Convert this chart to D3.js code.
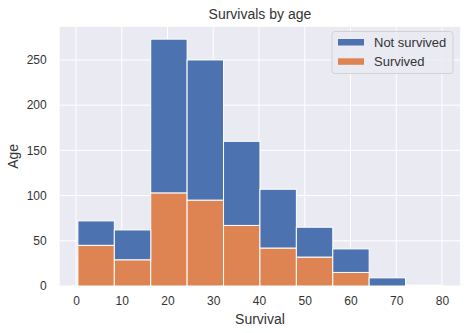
<!DOCTYPE html>
<html>
<head>
<meta charset="utf-8">
<script src="https://cdn.jsdelivr.net/npm/d3@7"></script>
<style>
  body { margin: 0; background: #fff; }
  text { font-family: "Liberation Sans", Arial, sans-serif; fill: #333; }
</style>
</head>
<body>
<div id="area1"></div>
<script>
const w1 = 467;
const h1 = 333;

// histogram bins (10 bins between min and max age)
const binEdges = [0.42, 8.38, 16.34, 24.29, 32.25, 40.21, 48.17, 56.13, 64.08, 72.04, 80];
// counts per bin
const survived    = [45, 29, 103, 95, 67, 42, 32, 15, 0, 0];
const notSurvived = [27, 33, 170, 155, 93, 65, 33, 26, 9, 1];
const seriesNames = ["Not survived", "Survived"];
const xTicks = [0, 10, 20, 30, 40, 50, 60, 70, 80];
const yTicks = [0, 50, 100, 150, 200, 250];

const colors = { "Not survived": "#4C72B0", "Survived": "#DD8452" };

let rows = binEdges.slice(0, -1).map((x0, i) => ({
    x0: x0,
    x1: binEdges[i + 1],
    "Survived": survived[i],
    "Not survived": notSurvived[i]
}));

// survived at the bottom, not survived stacked above
let stacked = d3.stack().keys(["Survived", "Not survived"])(rows);

// plot area edges
const pLeft = 59.7, pRight = 460.2, pTop = 26.8, pBottom = 286;

// 5% padding on both axes like matplotlib
let xMin = binEdges[0], xMax = binEdges[binEdges.length - 1];
let pad = (xMax - xMin) * 0.05;
let x = d3.scaleLinear()
    .domain([xMin - pad, xMax + pad])
    .range([pLeft, pRight]);

let yMax = d3.max(rows, (d) => d["Survived"] + d["Not survived"]);
let y = d3.scaleLinear()
    .domain([0, yMax * 1.05])
    .range([pBottom, pTop]);

let svg1 = d3.select("#area1")
    .append("svg")
    .attr("width", w1)
    .attr("height", h1);

// plot background
svg1.append("rect")
    .attr("x", pLeft)
    .attr("y", pTop)
    .attr("width", pRight - pLeft)
    .attr("height", pBottom - pTop)
    .attr("fill", "#EAEAF2");

// grid
svg1.append("g")
    .selectAll("line")
    .data(xTicks)
    .enter()
    .append("line")
    .attr("x1", (d) => x(d))
    .attr("x2", (d) => x(d))
    .attr("y1", pTop)
    .attr("y2", pBottom)
    .attr("stroke", "#fff")
    .attr("stroke-width", 1);

svg1.append("g")
    .selectAll("line")
    .data(yTicks)
    .enter()
    .append("line")
    .attr("x1", pLeft)
    .attr("x2", pRight)
    .attr("y1", (d) => y(d))
    .attr("y2", (d) => y(d))
    .attr("stroke", "#fff")
    .attr("stroke-width", 1);

// bars
svg1.append("g")
    .selectAll("g")
    .data(stacked)
    .enter()
    .append("g")
    .attr("fill", (s) => colors[s.key])
    .selectAll("rect")
    .data((s) => s)
    .enter()
    .append("rect")
    .attr("x", (d) => x(d.data.x0))
    .attr("width", (d) => x(d.data.x1) - x(d.data.x0))
    .attr("y", (d) => y(d[1]))
    .attr("height", (d) => y(d[0]) - y(d[1]))
    .attr("stroke", "#fff")
    .attr("stroke-width", 1);

// axes (no lines, just labels)
let xAxis = svg1.append("g")
    .attr("transform", "translate(0," + pBottom + ")")
    .call(d3.axisBottom(x).tickValues(xTicks).tickSize(0).tickPadding(10));
let yAxis = svg1.append("g")
    .attr("transform", "translate(" + pLeft + ",0)")
    .call(d3.axisLeft(y).tickValues(yTicks).tickSize(0).tickPadding(13));

[xAxis, yAxis].forEach((a) => {
    a.select(".domain").remove();
    a.selectAll("text")
        .attr("font-size", "12px")
        .attr("font-family", "Liberation Sans, Arial, sans-serif")
        .attr("fill", "#333");
});

// title and axis labels
svg1.append("text")
    .attr("x", (pLeft + pRight) / 2)
    .attr("y", 19)
    .attr("text-anchor", "middle")
    .attr("font-size", "14px")
    .text("Survivals by age");

svg1.append("text")
    .attr("x", (pLeft + pRight) / 2)
    .attr("y", 324)
    .attr("text-anchor", "middle")
    .attr("font-size", "14px")
    .text("Survival");

svg1.append("text")
    .attr("transform", "translate(17.5," + (pTop + pBottom) / 2 + ") rotate(-90)")
    .attr("text-anchor", "middle")
    .attr("font-size", "14px")
    .text("Age");

// legend
let legend = svg1.append("g");
legend.append("rect")
    .attr("x", 332)
    .attr("y", 31.5)
    .attr("width", 121)
    .attr("height", 42)
    .attr("rx", 3)
    .attr("fill", "#EAEAF2")
    .attr("fill-opacity", 0.85)
    .attr("stroke", "#ccc")
    .attr("stroke-width", 0.8);

seriesNames.forEach((name, i) => {
    legend.append("rect")
        .attr("x", 338)
        .attr("y", 39 + i * 19.3)
        .attr("width", 26)
        .attr("height", 6.5)
        .attr("fill", colors[name]);
    legend.append("text")
        .attr("x", 374)
        .attr("y", 47.3 + i * 19)
        .attr("font-size", "13px")
        .text(name);
});
</script>
</body>
</html>
